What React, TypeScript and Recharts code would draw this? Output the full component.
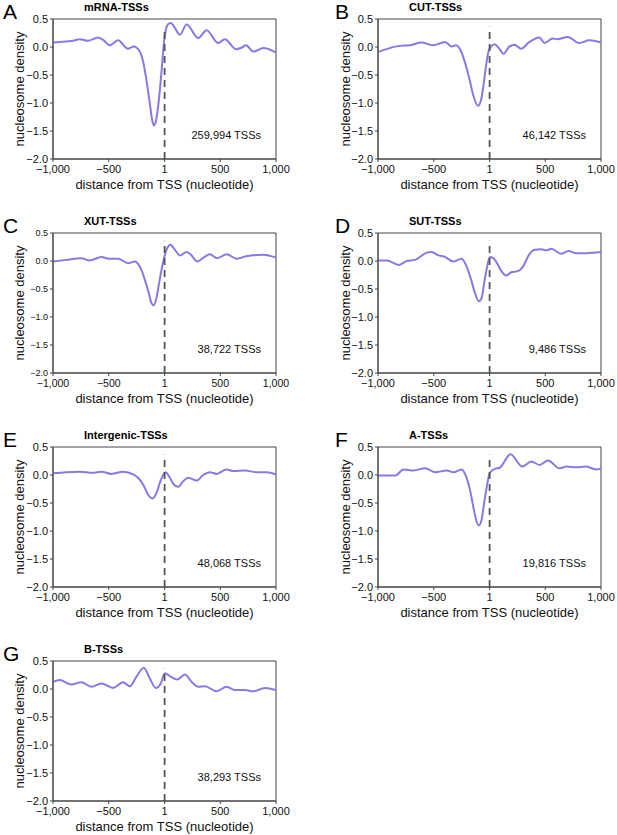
import React from 'react';
import { LineChart, Line, XAxis, YAxis, ReferenceLine, ReferenceArea, Label } from 'recharts';

const X_TICKS = [-1000, -500, 1, 500, 1000];
const X_TICK_LABELS = ['\u22121,000', '\u2212500', '1', '500', '1,000'];
const Y_TICKS = [-2, -1.5, -1, -0.5, 0, 0.5];
const Y_TICK_LABELS = ['\u22122.0', '\u22121.5', '\u22121.0', '\u22120.5', '0.0', '0.5'];

const PANEL_LETTERS = ['A', 'B', 'C', 'D', 'E', 'F', 'G'];
const PANEL_TITLES = ['mRNA-TSSs', 'CUT-TSSs', 'XUT-TSSs', 'SUT-TSSs', 'Intergenic-TSSs', 'A-TSSs', 'B-TSSs'];
const PANEL_COUNTS = ['259,994 TSSs', '46,142 TSSs', '38,722 TSSs', '9,486 TSSs', '48,068 TSSs', '19,816 TSSs', '38,293 TSSs'];

const A_POS = [-1000, -940, -880, -820, -760, -686, -596, -540, -491, -416, -330, -275, -222, -192, -162, -132, -111, -96, -78, -57, -36, -18, -3, 12, 33, 57, 90, 138, 198, 302, 377, 482, 542, 641, 692, 731, 796, 886, 1000];
const A_VAL = [0.08, 0.09, 0.10, 0.11, 0.14, 0.11, 0.17, 0.11, 0.03, 0.12, -0.03, 0.01, -0.08, -0.26, -0.59, -1.0, -1.30, -1.40, -1.33, -1.06, -0.65, -0.23, 0.12, 0.30, 0.41, 0.43, 0.35, 0.22, 0.40, 0.16, 0.30, 0.07, 0.14, -0.04, -0.01, 0.03, -0.08, -0.02, -0.10];

const B_POS = [-1000, -896, -806, -716, -612, -507, -397, -340, -300, -254, -218, -179, -143, -104, -75, -51, -30, -9, 15, 45, 84, 125, 179, 224, 284, 358, 448, 493, 567, 612, 701, 806, 896, 1000];
const B_VAL = [-0.09, -0.02, 0.02, 0.03, 0.08, 0.03, 0.09, 0.01, 0.03, -0.08, -0.29, -0.58, -0.88, -1.05, -0.94, -0.64, -0.32, -0.08, 0.01, 0.05, -0.02, -0.12, 0.01, 0.04, -0.03, 0.09, 0.17, 0.07, 0.15, 0.14, 0.18, 0.07, 0.12, 0.08];

const C_POS = [-1000, -880, -746, -671, -566, -491, -416, -326, -266, -222, -177, -141, -117, -96, -72, -48, -24, 0, 24, 54, 93, 138, 198, 243, 293, 362, 407, 473, 557, 647, 722, 886, 1000];
const C_VAL = [-0.01, 0.02, 0.05, 0.01, 0.07, 0.04, 0.04, -0.04, -0.01, -0.10, -0.33, -0.57, -0.75, -0.79, -0.66, -0.39, -0.13, 0.08, 0.23, 0.29, 0.20, 0.10, 0.16, 0.10, -0.01, 0.08, 0.12, 0.05, 0.12, 0.04, 0.08, 0.11, 0.06];

const D_POS = [-1000, -920, -815, -741, -667, -562, -518, -458, -408, -324, -250, -205, -161, -131, -95, -71, -48, -21, 3, 33, 68, 107, 152, 196, 256, 301, 354, 405, 464, 509, 554, 643, 711, 777, 866, 1000];
const D_VAL = [0.01, 0.01, -0.07, 0.0, 0.02, 0.15, 0.16, 0.10, 0.08, -0.01, 0.04, -0.10, -0.36, -0.57, -0.72, -0.66, -0.39, -0.10, 0.07, 0.05, -0.04, -0.18, -0.26, -0.20, -0.18, -0.10, 0.11, 0.20, 0.21, 0.19, 0.22, 0.13, 0.18, 0.14, 0.14, 0.16];

const E_POS = [-1000, -880, -760, -640, -566, -476, -371, -281, -237, -192, -147, -108, -72, -42, -12, 9, 48, 84, 123, 168, 213, 288, 347, 407, 467, 557, 617, 722, 826, 916, 1000];
const E_VAL = [0.03, 0.05, 0.06, 0.04, 0.06, 0.02, 0.06, 0.01, -0.05, -0.17, -0.35, -0.42, -0.32, -0.14, 0.0, 0.05, -0.05, -0.17, -0.21, -0.11, -0.05, -0.10, 0.0, 0.05, 0.02, 0.10, 0.07, 0.08, 0.05, 0.05, 0.01];

const F_POS = [-1000, -920, -845, -771, -682, -577, -488, -384, -324, -250, -211, -176, -140, -116, -95, -71, -48, -21, 3, 48, 92, 188, 295, 375, 449, 524, 628, 688, 777, 866, 955, 1000];
const F_VAL = [-0.01, -0.01, -0.01, 0.10, 0.08, 0.12, 0.05, 0.08, 0.05, 0.10, -0.02, -0.26, -0.62, -0.83, -0.90, -0.80, -0.50, -0.17, 0.04, 0.11, 0.13, 0.37, 0.15, 0.24, 0.18, 0.26, 0.12, 0.15, 0.14, 0.15, 0.10, 0.11];

const G_POS = [-1000, -940, -835, -746, -656, -566, -461, -371, -311, -251, -186, -132, -78, -33, 3, 48, 114, 183, 243, 302, 362, 467, 557, 632, 722, 796, 901, 1000];
const G_VAL = [0.13, 0.16, 0.08, 0.12, 0.04, 0.10, 0.02, 0.12, 0.05, 0.22, 0.38, 0.19, 0.02, 0.10, 0.28, 0.23, 0.17, 0.26, 0.13, 0.04, 0.05, -0.04, 0.04, -0.02, -0.02, -0.04, 0.02, -0.02];

const SERIES: [number[], number[]][] = [
  [A_POS, A_VAL],
  [B_POS, B_VAL],
  [C_POS, C_VAL],
  [D_POS, D_VAL],
  [E_POS, E_VAL],
  [F_POS, F_VAL],
  [G_POS, G_VAL],
];

const FONT = '"Liberation Sans", Arial, Helvetica, sans-serif';
const PURPLE = '#8a78e6';
const CHART_W = 300;
const CHART_H = 193;
const PLOT_L = 53;
const PLOT_R = 276;
const PLOT_T = 19;

function Panel({ index }: { index: number }) {
  const col = index % 2;
  const row = Math.floor(index / 2);
  const [pos, val] = SERIES[index];
  const data = pos.map((x, i) => ({ x, y: val[i] }));
  const small = index === 2;
  const yl = col === 0 ? 24 : 25;
  const overlay = () => (
    <g fontFamily={FONT}>
      <text x={col === 0 ? 3 : 10} y={19} fontSize={21} fill="#000">{PANEL_LETTERS[index]}</text>
      <text x={84} y={10.5} fontSize={11} fontWeight="bold" fill="#000">{PANEL_TITLES[index]}</text>
      <text x={PLOT_R - 15} y={139} fontSize={11} textAnchor="end" fill="#111">{PANEL_COUNTS[index]}</text>
      <text x={(PLOT_L + PLOT_R) / 2} y={189} fontSize={13} textAnchor="middle" fill="#111">distance from TSS (nucleotide)</text>
      <text x={yl} y={89} fontSize={13} textAnchor="middle" fill="#111" transform={`rotate(-90 ${yl} 89)`}>nucleosome density</text>
    </g>
  );
  return (
    <div style={{ position: 'absolute', left: col * 325, top: row * 214, width: CHART_W, height: CHART_H }}>
      <LineChart width={CHART_W} height={CHART_H} data={data} margin={{ top: PLOT_T, right: CHART_W - PLOT_R, bottom: 4, left: 0 }}>
        <XAxis
          dataKey="x"
          type="number"
          domain={[-1000, 1000]}
          ticks={X_TICKS}
          tickFormatter={(v: number) => X_TICK_LABELS[X_TICKS.indexOf(v)]}
          interval={0}
          height={30}
          tickSize={3}
          tickMargin={small ? 4 : 3}
          tick={{ fontSize: small ? 10.5 : 11, fill: '#111', fontFamily: FONT }}
          stroke="#444"
          allowDataOverflow
        >
          <Label content={overlay} />
        </XAxis>
        <YAxis
          type="number"
          domain={[-2, 0.5]}
          ticks={Y_TICKS}
          tickFormatter={(v: number) => Y_TICK_LABELS[Y_TICKS.indexOf(v)]}
          interval={0}
          width={PLOT_L}
          tickSize={3}
          tickMargin={2}
          tick={{ fontSize: small ? 9 : 11, fill: '#111', fontFamily: FONT }}
          stroke="#444"
          allowDataOverflow
        />
        <ReferenceArea x1={-1000} x2={1000} y1={-2} y2={0.5} fill="none" stroke="#444" strokeWidth={1} />
        <Line dataKey="y" type="monotone" stroke={PURPLE} strokeWidth={2} dot={false} isAnimationActive={false} />
        <ReferenceLine segment={[{ x: 1, y: -2 }, { x: 1, y: 0.36 }]} stroke="#555" strokeWidth={1.8} strokeDasharray="7 5" />
      </LineChart>
    </div>
  );
}

export default function App() {
  return (
    <div style={{ position: 'absolute', left: 0, top: 0, width: 617, height: 835, overflow: 'hidden', background: '#fff' }}>
      {PANEL_LETTERS.map((_, i) => (
        <Panel key={i} index={i} />
      ))}
    </div>
  );
}
